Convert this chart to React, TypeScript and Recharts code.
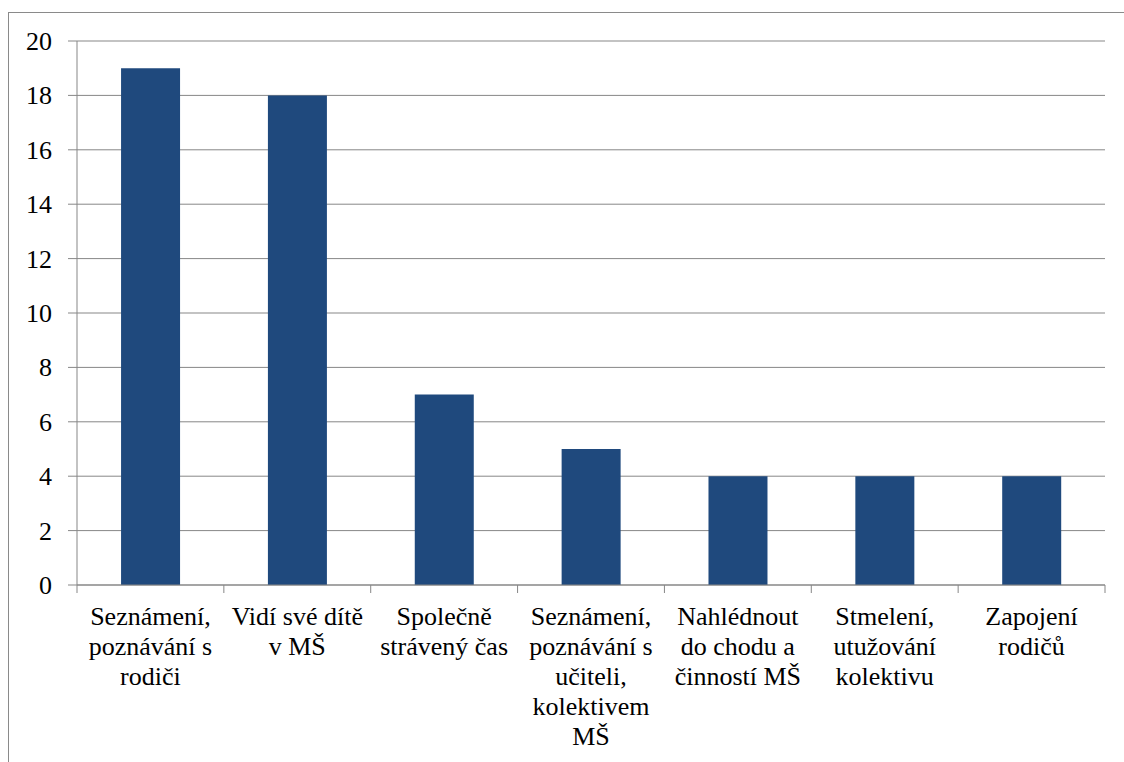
import React from "react";
import { BarChart, Bar, XAxis, YAxis, CartesianGrid } from "recharts";

const categories = [
  "Seznámení, poznávání s rodiči",
  "Vidí své dítě v MŠ",
  "Společně strávený čas",
  "Seznámení, poznávání s učiteli, kolektivem MŠ",
  "Nahlédnout do chodu a činností MŠ",
  "Stmelení, utužování kolektivu",
  "Zapojení rodičů",
];
const values = [19, 18, 7, 5, 4, 4, 4];
const tickLines: string[][] = [
  ["Seznámení,", "poznávání s", "rodiči"],
  ["Vidí své dítě", "v MŠ"],
  ["Společně", "strávený čas"],
  ["Seznámení,", "poznávání s", "učiteli,", "kolektivem", "MŠ"],
  ["Nahlédnout", "do chodu a", "činností MŠ"],
  ["Stmelení,", "utužování", "kolektivu"],
  ["Zapojení", "rodičů"],
];
const yTicks = [0, 2, 4, 6, 8, 10, 12, 14, 16, 18, 20];

const data = categories.map((c, i) => ({ name: c, value: values[i] }));

const FONT = "Liberation Serif, Tinos, Times New Roman, Times, DejaVu Serif, Noto Serif, serif";
const GRAY = "#878787";
const TICK_SIZE = 8;
const TICK_MARGIN = 2;

const CatTick = (props: any) => {
  const { x, y, index, visibleTicksCount, width } = props;
  const lines = tickLines[index] || [];
  const half = width / visibleTicksCount / 2;
  const axisY = y - TICK_SIZE - TICK_MARGIN;
  return (
    <g>
      <line x1={x - half} x2={x - half} y1={axisY} y2={axisY + TICK_SIZE} stroke={GRAY} strokeWidth={1} />
      {index === visibleTicksCount - 1 && (
        <line x1={x + half} x2={x + half} y1={axisY} y2={axisY + TICK_SIZE} stroke={GRAY} strokeWidth={1} />
      )}
      <text x={x} y={y} textAnchor="middle" fontFamily={FONT} style={{ fontFamily: FONT, fontSize: 26 }} fill="#000">
        {lines.map((l, i) => (
          <tspan key={i} x={x} dy={30}>
            {l}
          </tspan>
        ))}
      </text>
    </g>
  );
};

const NumTick = (props: any) => {
  const { x, y, payload } = props;
  return (
    <text x={x} y={y} dy={9} textAnchor="end" fontFamily={FONT} style={{ fontFamily: FONT, fontSize: 26 }} fill="#000">
      {payload.value}
    </text>
  );
};

export default function App() {
  return (
    <div style={{ position: "absolute", left: 0, top: 0, width: 1124, height: 762, overflow: "hidden", background: "#fff", fontFamily: FONT }}>
      <div
        style={{
          position: "absolute",
          left: 8,
          top: 12,
          width: 1200,
          height: 900,
          border: "1px solid #8a8a8a",
          boxSizing: "border-box",
        }}
      />
      <div style={{ position: "absolute", left: 0, top: 0 }}>
        <BarChart
          width={1124}
          height={762}
          data={data}
          margin={{ top: 41, right: 19, left: 17, bottom: 7 }}
          barCategoryGap="30%"
        >
          <CartesianGrid horizontal={true} vertical={false} stroke={GRAY} strokeWidth={1} />
          <XAxis
            dataKey="name"
            interval={0}
            height={170}
            tickSize={TICK_SIZE}
            tickMargin={TICK_MARGIN}
            tickLine={false}
            axisLine={{ stroke: GRAY, strokeWidth: 1 }}
            tick={<CatTick />}
          />
          <YAxis
            domain={[0, 20]}
            ticks={yTicks}
            interval={0}
            width={60}
            tickSize={9}
            tickMargin={16}
            axisLine={{ stroke: GRAY, strokeWidth: 1 }}
            tickLine={{ stroke: GRAY, strokeWidth: 1 }}
            tick={<NumTick />}
          />
          <Bar dataKey="value" fill="#1F497D" isAnimationActive={false} />
        </BarChart>
      </div>
    </div>
  );
}
